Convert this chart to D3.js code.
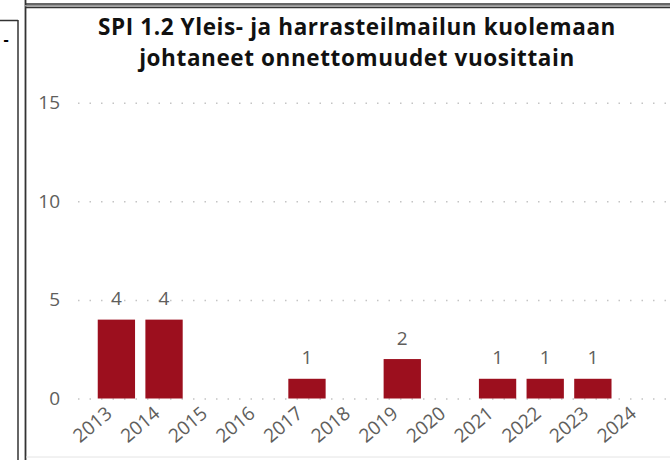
<!DOCTYPE html>
<html>
<head>
  <meta charset="utf-8">
  <title>SPI 1.2</title>
  <script src="https://cdn.jsdelivr.net/npm/d3@7"></script>
  <style>
    body{margin:0;background:#fff;}
    .title{font-family:"Open Sans",sans-serif;font-weight:700;font-size:22.5px;letter-spacing:0.6px;fill:#111;text-anchor:middle;}
    .axis text{font-family:"Open Sans",sans-serif;font-size:19px;fill:#605e5c;}
    .axis path{display:none;}
    .grid line{stroke:#c4c4c4;stroke-width:1.5;stroke-dasharray:1.5,10;}
    .grid path{display:none;}
    .label{font-family:"Open Sans",sans-serif;font-size:19px;fill:#605e5c;text-anchor:middle;}
  </style>
</head>
<body>
<script>
  // data
  var years = ["2013","2014","2015","2016","2017","2018","2019","2020","2021","2022","2023","2024"];
  var deaths = [4, 4, null, null, 1, null, 2, null, 1, 1, 1, null];
  var yTicks = [0, 5, 10, 15];
  var titleLines = ["SPI 1.2 Yleis- ja harrasteilmailun kuolemaan", "johtaneet onnettomuudet vuosittain"];

  var width = 670, height = 460;
  var svg = d3.select("body").append("svg")
      .attr("width", width)
      .attr("height", height);

  // frames (neighbour panel on the left + own border)
  var frame = svg.append("g").attr("fill", "none");
  frame.append("line").attr("x1", 0).attr("x2", 18).attr("y1", 20.5).attr("y2", 20.5)
      .attr("stroke", "#333").attr("stroke-width", 1.5);
  frame.append("line").attr("x1", 18).attr("x2", 18).attr("y1", 20).attr("y2", height)
      .attr("stroke", "#333").attr("stroke-width", 1.5);
  frame.append("line").attr("x1", 25.5).attr("x2", 25.5).attr("y1", 0).attr("y2", height)
      .attr("stroke", "#333").attr("stroke-width", 1.8);
  frame.append("line").attr("x1", 25).attr("x2", width).attr("y1", 4).attr("y2", 4)
      .attr("stroke", "#333").attr("stroke-width", 1.5);
  frame.append("line").attr("x1", 25).attr("x2", width).attr("y1", 5.8).attr("y2", 5.8)
      .attr("stroke", "#999").attr("stroke-width", 1.5);
  frame.append("line").attr("x1", 25).attr("x2", width).attr("y1", 7.5).attr("y2", 7.5)
      .attr("stroke", "#333").attr("stroke-width", 1.5);
  frame.append("line").attr("x1", 26).attr("x2", width).attr("y1", 457).attr("y2", 457)
      .attr("stroke", "#e4e4e4").attr("stroke-width", 1);
  svg.append("text").attr("x", 6).attr("y", 45)
      .style("font-family", "Open Sans").style("font-weight", 700).style("font-size", "16px")
      .attr("text-anchor", "middle").text("-");

  // title
  svg.selectAll(".title").data(titleLines).enter().append("text")
      .attr("class", "title")
      .attr("x", 357)
      .attr("y", function(d, i){ return 35 + i * 31; })
      .text(function(d){ return d; });

  // scales
  var x = d3.scaleBand().domain(years)
      .range([92.5, 664.4])
      .paddingInner(0.217)
      .paddingOuter(0.11);
  var y = d3.scaleLinear().domain([0, 15]).range([398.5, 102.7]);

  // dotted grid
  svg.append("g")
     .attr("class", "grid")
     .attr("transform", "translate(78,0)")
     .call(d3.axisRight(y).tickValues(yTicks).tickSize(width - 78).tickFormat(""));

  // y axis labels
  svg.append("g")
     .attr("class", "axis")
     .attr("transform", "translate(60,0)")
     .call(d3.axisLeft(y).tickValues(yTicks).tickSize(0).tickPadding(0));

  // x axis labels
  var xAxis = svg.append("g")
     .attr("class", "axis")
     .attr("transform", "translate(0," + y(0) + ")")
     .call(d3.axisBottom(x).tickSize(0));
  xAxis.selectAll("text")
     .attr("x", 0).attr("y", 0).attr("dy", 0)
     .attr("text-anchor", "end")
     .attr("transform", "translate(-3,17) rotate(-40)");

  // bars
  var data = years.map(function(d, i){ return {year: d, value: deaths[i]}; })
                  .filter(function(d){ return d.value != null; });
  svg.append("g").selectAll("rect")
     .data(data).enter().append("rect")
     .attr("x", function(d){ return x(d.year); })
     .attr("y", function(d){ return y(d.value); })
     .attr("width", x.bandwidth())
     .attr("height", function(d){ return y(0) - y(d.value); })
     .attr("fill", "#9c0f1e");

  // data labels
  svg.append("g").selectAll("text")
     .data(data).enter().append("text")
     .attr("class", "label")
     .attr("x", function(d){ return x(d.year) + x.bandwidth() / 2; })
     .attr("y", function(d){ return y(d.value) - 14.5; })
     .text(function(d){ return d.value; });
</script>
</body>
</html>
